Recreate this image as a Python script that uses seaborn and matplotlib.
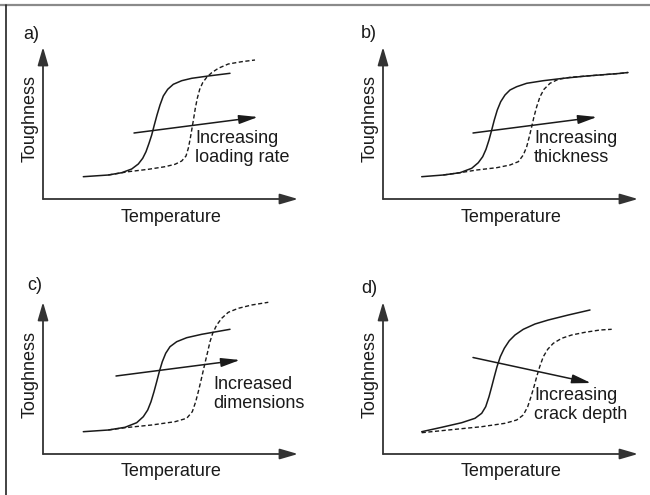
import matplotlib
matplotlib.use("Agg")
import matplotlib.pyplot as plt
import seaborn as sns
import pandas as pd
from matplotlib.lines import Line2D

# ---------------- data (arbitrary units) ----------------
panel_ids = ["a", "b", "c", "d"]
panel_letters = ["a)", "b)", "c)", "d)"]
x_label = "Temperature"
y_label = "Toughness"
effect_labels = ["Increasing\nloading rate", "Increasing\nthickness",
                 "Increased\ndimensions", "Increasing\ncrack depth"]

temp_a_solid = [40.3, 65.3, 78.7, 88.7, 95.3, 99.7, 103, 106, 108.7, 111.3, 114, 117,
                120.3, 124.7, 130.3, 138.7, 148.7, 165.3, 187]
tough_a_solid = [22.3, 24, 26.3, 30, 35, 40.7, 47.3, 55.7, 64, 74, 84, 94,
                 103, 109.7, 114.7, 118.3, 120.7, 123, 125.7]
temp_a_dash = [65.3, 85.3, 105.3, 122, 132, 138.7, 143, 145.3, 147.3, 149, 150.7, 152.3,
               154.3, 156.7, 159.7, 163.7, 168.7, 175.3, 185.3, 198.7, 212]
tough_a_dash = [24, 27.3, 29.7, 32.3, 34.7, 38, 43, 50.7, 60.7, 70.7, 80.7, 90.7,
                100.7, 109.7, 116.3, 121.7, 126.3, 130.7, 135, 137.3, 139]

temp_b_solid = [38.7, 60.3, 77, 88.7, 95.3, 99.7, 103, 106, 108.7, 111.3, 114.3, 117.7,
                122, 127, 133.7, 143.7, 160.3, 180.3, 203.7, 237, 245]
tough_b_solid = [22.3, 24, 26.3, 30.7, 36.3, 42.3, 49.7, 59, 69, 79, 89, 97.3,
                 104, 109, 112.3, 115.7, 118.3, 120.7, 123, 125.6, 126.5]
temp_b_dash = [60.3, 77, 93.7, 113.7, 127, 135.3, 140.3, 143.7, 146.3, 148.7, 151, 153.7,
               157, 161, 167, 175.3, 187, 203.7, 237, 245]
tough_b_dash = [24, 26.3, 29, 31.3, 34, 37.3, 44, 52.3, 62.3, 72.3, 82.3, 92.3,
                102.3, 109.7, 115.7, 119.7, 121.7, 123, 125.6, 126.5]

temp_c_solid = [40.3, 65.3, 82, 93.7, 100.3, 104.7, 108, 111, 113.7, 116.3, 119.3, 122.7,
                127, 133.7, 143.7, 158.7, 187]
tough_c_solid = [22.3, 24, 26.7, 31.3, 37.3, 44, 52.3, 62.3, 72.3, 82.3, 92.3, 100.7,
                 107.3, 112.3, 116.3, 119.7, 124.7]
temp_c_dash = [65.3, 82, 108.7, 132, 143.7, 149.3, 152.7, 155.3, 157.7, 160, 162.3, 164.7,
               167, 169.7, 173.7, 178.7, 185.3, 195.3, 208.7, 225.3]
tough_c_dash = [24, 26.3, 29, 32.3, 35.7, 42.3, 52.3, 62.3, 72.3, 82.3, 92.3, 102.3,
                112.3, 120.7, 129, 135.7, 141.7, 145.7, 149, 151.7]

temp_d_solid = [38.7, 58.7, 78.7, 92, 98.7, 102.7, 106, 108.7, 111.3, 114, 117.3, 121.3,
                126.3, 132, 140.3, 152, 165.3, 185.3, 207]
tough_d_solid = [22.3, 26.7, 31.3, 35.7, 40.7, 47.3, 57.3, 67.3, 77.3, 87.3, 97.3, 105.7,
                 113.3, 119, 124.7, 130, 134, 139, 144]
temp_d_dash = [38.7, 65.3, 98.7, 122, 133.7, 140.3, 144.7, 148, 151, 153.7, 156.7, 160.3,
               164.7, 170.3, 178.7, 188.7, 202, 217, 228.7]
tough_d_dash = [21.3, 24, 27.3, 30.7, 34, 39, 47.3, 57.3, 67.3, 77.3, 87.3, 97.3,
                104.7, 110.7, 115.7, 119, 121.7, 124, 124.7]

# trend arrows (start temperature, start toughness, end temperature, end toughness)
trend_a = [91, 66, 215, 82]
trend_b = [90, 66, 214, 82]
trend_c = [73, 78, 197, 94]
trend_d = [90, 96.5, 208, 71]

curves = {
    "a": (temp_a_solid, tough_a_solid, temp_a_dash, tough_a_dash, trend_a),
    "b": (temp_b_solid, tough_b_solid, temp_b_dash, tough_b_dash, trend_b),
    "c": (temp_c_solid, tough_c_solid, temp_c_dash, tough_c_dash, trend_c),
    "d": (temp_d_solid, tough_d_solid, temp_d_dash, tough_d_dash, trend_d),
}

# ---------------- layout ----------------
W, H = 650, 495
layout = {  # axes rect (fig fraction), xlim, ylim, effect-text anchor, letter anchor
    "a": ([0.0, 0.5, 0.5, 0.5], (-43, 282), (-48.5, 199), (152, 69), (-20, 160)),
    "b": ([0.5, 0.5, 0.5, 0.5], (-58, 267), (-48.5, 199), (151, 69), (-22, 161)),
    "c": ([0.0, 0.0, 0.5, 0.5], (-43, 282), (-41, 206.5), (170, 78), (-16, 164.5)),
    "d": ([0.5, 0.0, 0.5, 0.5], (-58, 267), (-41, 206.5), (151, 67), (-22, 161)),
}
X_TIP, Y_TIP = 255, 152
FS = 13.0
INK = "#1a1a1a"

sns.set_theme(style="white")
plt.rcParams["font.family"] = ["Liberation Sans", "DejaVu Sans"]

fig = plt.figure(figsize=(W / 100, H / 100), dpi=100)
fig.patch.set_facecolor("white")

for pid, letter, elabel in zip(panel_ids, panel_letters, effect_labels):
    rect, xlim, ylim, tpos, lpos = layout[pid]
    ts, ys, td, yd, trend = curves[pid]
    ax = fig.add_axes(rect)
    ax.set_xlim(*xlim)
    ax.set_ylim(*ylim)
    ax.axis("off")

    df_s = pd.DataFrame({x_label: ts, y_label: ys})
    df_d = pd.DataFrame({x_label: td, y_label: yd})
    sns.lineplot(data=df_d, x=x_label, y=y_label, ax=ax, color=INK, lw=1.0,
                 linestyle=(0, (3.0, 1.8)), estimator=None, sort=False)
    sns.lineplot(data=df_s, x=x_label, y=y_label, ax=ax, color=INK, lw=1.1,
                 estimator=None, sort=False)
    ax.set_xlabel("")
    ax.set_ylabel("")

    # axes arrows
    ax_arrow = dict(arrowstyle="-|>,head_length=1.1,head_width=0.32", color="#333333",
                    lw=1.3, shrinkA=0, shrinkB=0, mutation_scale=10)
    ax.annotate("", xy=(X_TIP, 0), xytext=(0, 0), arrowprops=ax_arrow)
    ax.annotate("", xy=(0, Y_TIP), xytext=(0, 0), arrowprops=ax_arrow)

    # trend arrow
    tr_arrow = dict(arrowstyle="-|>,head_length=1.15,head_width=0.27", color=INK,
                    lw=1.1, shrinkA=0, shrinkB=0, mutation_scale=10)
    ax.annotate("", xy=(trend[2], trend[3]), xytext=(trend[0], trend[1]),
                arrowprops=tr_arrow)

    # texts
    ax.text(tpos[0], tpos[1], elabel, fontsize=FS, ha="left", va="top",
            color=INK, linespacing=1.12)
    ax.text(lpos[0], lpos[1], letter, fontsize=FS, ha="left", va="baseline", color=INK)
    ax.text(X_TIP / 2 + 0.5, -22.5, x_label, fontsize=FS, ha="center", va="baseline",
            color=INK)
    ax.text(-13, 80, y_label, fontsize=FS, ha="center", va="center", rotation=90,
            color=INK)

# frame fragments of the original figure
fig.add_artist(Line2D([0, 1], [1 - 5 / H, 1 - 5 / H], transform=fig.transFigure,
                      color="#8a8a8a", lw=1.6))
fig.add_artist(Line2D([6 / W, 6 / W], [0, 1 - 5 / H], transform=fig.transFigure,
                      color="#222222", lw=1.2))

fig.savefig("out.png", dpi=100, facecolor="white")
